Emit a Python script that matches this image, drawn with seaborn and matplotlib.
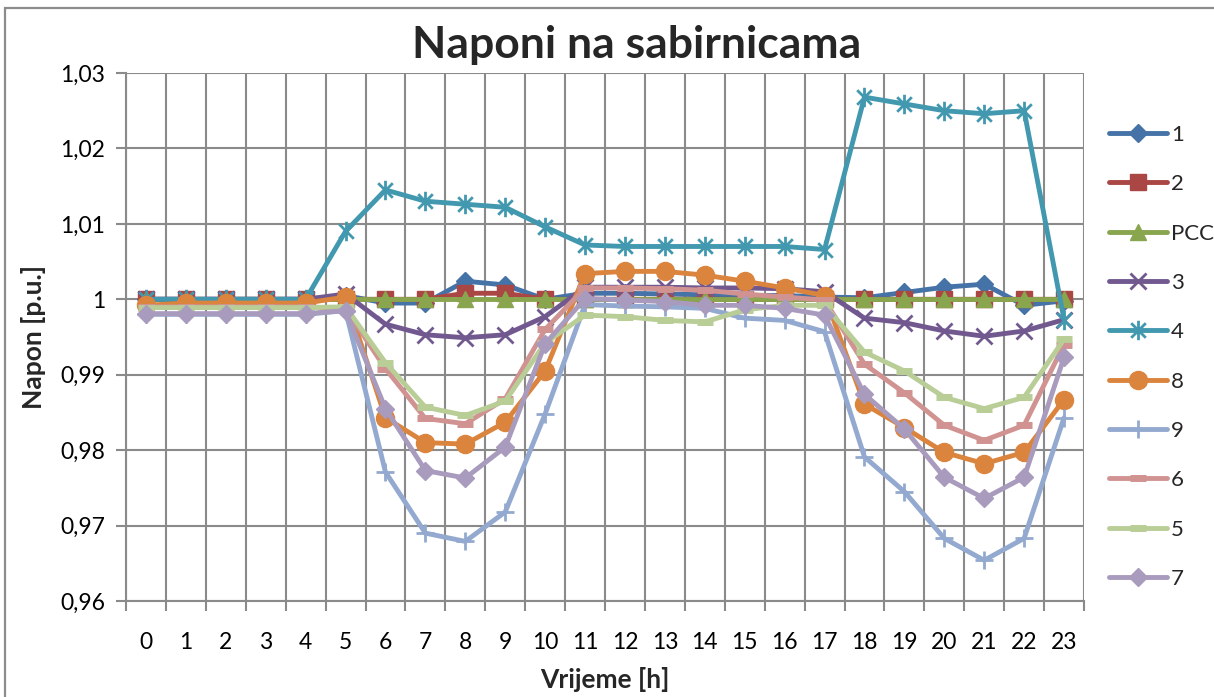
import numpy as np
import pandas as pd
import matplotlib
matplotlib.use("Agg")
import matplotlib.pyplot as plt
from matplotlib.path import Path
from matplotlib.patches import Rectangle
from matplotlib.ticker import FixedLocator, FuncFormatter
import seaborn as sns

# Hours of the day
hours = list(range(24))

# Bus voltages in p.u. per hour
bus_1 = [1.0000, 1.0000, 1.0000, 1.0000, 1.0000, 1.0005, 0.9995, 0.9995, 1.0024, 1.0019,
         1.0000, 1.0008, 1.0008, 1.0007, 1.0006, 1.0005, 1.0005, 1.0003, 1.0002, 1.0009,
         1.0016, 1.0020, 0.9992, 0.9998]
bus_2 = [1.0000, 1.0000, 1.0000, 1.0000, 1.0000, 1.0000, 1.0000, 1.0000, 1.0008, 1.0008,
         1.0000, 1.0000, 1.0000, 1.0000, 1.0000, 1.0000, 1.0000, 1.0000, 1.0000, 1.0000,
         1.0000, 1.0000, 1.0000, 1.0000]
bus_pcc = [1.0000] * 24
bus_3 = [1.0000, 1.0000, 1.0000, 1.0000, 1.0000, 1.0007, 0.9967, 0.9953, 0.9949, 0.9953,
         0.9977, 1.0016, 1.0016, 1.0016, 1.0015, 1.0015, 1.0014, 1.0010, 0.9975, 0.9969,
         0.9958, 0.9951, 0.9958, 0.9973]
bus_4 = [1.0000, 1.0000, 1.0000, 1.0000, 1.0000, 1.0090, 1.0145, 1.0130, 1.0126, 1.0122,
         1.0096, 1.0072, 1.0070, 1.0070, 1.0070, 1.0070, 1.0070, 1.0066, 1.0268, 1.0259,
         1.0250, 1.0246, 1.0250, 0.9973]
bus_8 = [0.9992, 0.9995, 0.9995, 0.9995, 0.9995, 1.0003, 0.9843, 0.9810, 0.9808, 0.9837,
         0.9905, 1.0034, 1.0037, 1.0037, 1.0032, 1.0024, 1.0015, 1.0005, 0.9861, 0.9830,
         0.9797, 0.9782, 0.9797, 0.9867]
bus_9 = [0.9980, 0.9980, 0.9980, 0.9980, 0.9980, 0.9985, 0.9771, 0.9690, 0.9679, 0.9718,
         0.9848, 0.9993, 0.9991, 0.9990, 0.9988, 0.9975, 0.9972, 0.9957, 0.9791, 0.9745,
         0.9683, 0.9654, 0.9683, 0.9843]
bus_6 = [0.9990, 0.9990, 0.9990, 0.9990, 0.9990, 0.9988, 0.9908, 0.9842, 0.9835, 0.9868,
         0.9960, 1.0015, 1.0015, 1.0014, 1.0012, 1.0007, 1.0003, 0.9999, 0.9914, 0.9876,
         0.9833, 0.9813, 0.9833, 0.9940]
bus_5 = [0.9989, 0.9989, 0.9989, 0.9989, 0.9989, 0.9990, 0.9916, 0.9857, 0.9846, 0.9865,
         0.9942, 0.9979, 0.9977, 0.9972, 0.9970, 0.9986, 0.9992, 0.9992, 0.9930, 0.9905,
         0.9870, 0.9855, 0.9870, 0.9947]
bus_7 = [0.9981, 0.9981, 0.9981, 0.9981, 0.9981, 0.9985, 0.9855, 0.9773, 0.9763, 0.9804,
         0.9941, 1.0001, 0.9999, 0.9997, 0.9992, 0.9992, 0.9988, 0.9979, 0.9874, 0.9828,
         0.9764, 0.9736, 0.9764, 0.9923]

series_names = ["1", "2", "PCC", "3", "4", "8", "9", "6", "5", "7"]
series_values = [bus_1, bus_2, bus_pcc, bus_3, bus_4, bus_8, bus_9, bus_6, bus_5, bus_7]

y_ticks = [0.96, 0.97, 0.98, 0.99, 1.00, 1.01, 1.02, 1.03]

title_text = "Naponi na sabirnicama"
x_label = "Vrijeme [h]"
y_label = "Napon [p.u.]"

colors = ["#4572A7", "#AA4643", "#89A54E", "#71588F", "#4198AF",
          "#DB843D", "#93A9CF", "#D19392", "#B9CD96", "#A99BBD"]

# asterisk: vertical bar crossed by an X
asterisk = Path([(0, -1), (0, 1), (-0.75, -0.75), (0.75, 0.75), (-0.75, 0.75), (0.75, -0.75)],
                [Path.MOVETO, Path.LINETO, Path.MOVETO, Path.LINETO, Path.MOVETO, Path.LINETO])

marker_styles = [
    dict(marker="D", markersize=9.5, markeredgewidth=1),
    dict(marker="s", markersize=12, markeredgewidth=1),
    dict(marker="^", markersize=12, markeredgewidth=1),
    dict(marker="x", markersize=12, markeredgewidth=2),
    dict(marker=asterisk, markersize=14, markeredgewidth=2),
    dict(marker="o", markersize=13, markeredgewidth=1),
    dict(marker="+", markersize=13, markeredgewidth=2),
    dict(marker="_", markersize=11, markeredgewidth=5),
    dict(marker="_", markersize=11, markeredgewidth=5),
    dict(marker="D", markersize=9.5, markeredgewidth=1),
]

sns.set_theme(style="white")
plt.rcParams["font.family"] = ["Lato", "DejaVu Sans"]

W, H = 1214, 697
fig = plt.figure(figsize=(W / 100, H / 100), dpi=100)
ax = fig.add_axes([126 / W, 1 - 601 / H, (1084 - 126) / W, (601 - 73) / H])

grid_color = "#8A8A8A"

for name, vals, col, ms in zip(series_names, series_values, colors, marker_styles):
    df = pd.DataFrame({"hour": hours, "napon": vals})
    sns.lineplot(data=df, x="hour", y="napon", ax=ax, color=col, linewidth=3.5,
                 markeredgecolor=col, markerfacecolor=col, label=name,
                 solid_joinstyle="round", solid_capstyle="round", **ms)

ax.set_xlim(-0.5, 23.5)
ax.set_ylim(0.96, 1.03)

# categories centred between gridlines
ax.xaxis.set_major_locator(FixedLocator(hours))
ax.xaxis.set_minor_locator(FixedLocator([h - 0.5 for h in hours] + [23.5]))
ax.set_xticklabels([str(h) for h in hours])
ax.tick_params(axis="x", which="major", length=0, pad=22, labelsize=16.5, colors="black")
ax.tick_params(axis="x", which="minor", length=7, width=1.5, color=grid_color, direction="out", bottom=True)

ax.yaxis.set_major_locator(FixedLocator(y_ticks))
def fmt(v, pos):
    s = f"{v:.2f}".rstrip("0").rstrip(".")
    return s.replace(".", ",")
ax.yaxis.set_major_formatter(FuncFormatter(fmt))
ax.tick_params(axis="y", which="major", length=7, width=1.5, color=grid_color, direction="out",
               left=True, pad=8, labelsize=16.5, colors="black")

ax.grid(False)
ax.grid(True, axis="y", which="major", color=grid_color, linewidth=1.5)
ax.grid(True, axis="x", which="minor", color=grid_color, linewidth=1.5)
for side in ["left", "bottom", "right", "top"]:
    ax.spines[side].set_visible(False)
ax.spines["left"].set_visible(True)
ax.spines["bottom"].set_visible(True)
ax.spines["left"].set_color(grid_color)
ax.spines["bottom"].set_color(grid_color)
ax.spines["left"].set_linewidth(1.5)
ax.spines["bottom"].set_linewidth(1.5)
ax.set_axisbelow(True)

ax.set_xlabel(x_label, fontsize=19, fontweight="bold")
ax.xaxis.set_label_coords(0.5, -0.125)
ax.set_ylabel(y_label, fontsize=19, fontweight="bold")
ax.yaxis.set_label_coords(-0.084, 0.5)

fig.text(637 / W, 1 - 45 / H, title_text, fontsize=32, fontweight="bold", ha="center", va="center")

leg = ax.legend(loc="upper left", bbox_to_anchor=(1100 / W, 1 - 116 / H), bbox_transform=fig.transFigure,
                frameon=False, fontsize=16, handlelength=2.6, handletextpad=0.2,
                labelspacing=1.32, borderaxespad=0)

# chart frame
fig.patches.append(Rectangle((5 / W, -0.05), 1.2, 1 - 8 / H + 0.05, transform=fig.transFigure,
                             fill=False, edgecolor="#8C8C8C", linewidth=1.6))

fig.savefig("out.png", dpi=100)
